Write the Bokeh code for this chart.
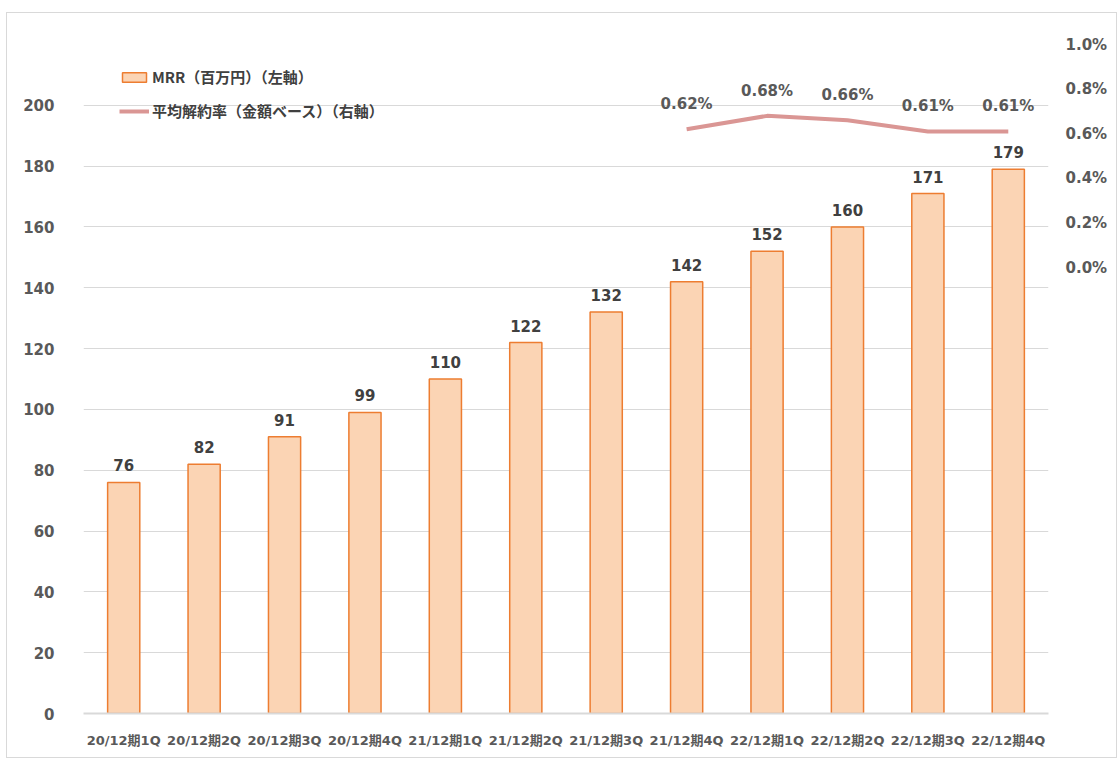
from bokeh.plotting import figure
from bokeh.models import (ColumnDataSource, Range1d, LinearAxis, FixedTicker,
                          PrintfTickFormatter, Legend, LegendItem, FactorRange)
from bokeh.embed import file_html
from bokeh.resources import INLINE
from bokeh.core.properties import value

categories = ["20/12期1Q", "20/12期2Q", "20/12期3Q", "20/12期4Q",
              "21/12期1Q", "21/12期2Q", "21/12期3Q", "21/12期4Q",
              "22/12期1Q", "22/12期2Q", "22/12期3Q", "22/12期4Q"]
mrr = [76, 82, 91, 99, 110, 122, 132, 142, 152, 160, 171, 179]
churn_categories = ["21/12期4Q", "22/12期1Q", "22/12期2Q", "22/12期3Q", "22/12期4Q"]
churn = [0.62, 0.68, 0.66, 0.61, 0.61]
left_ticks = [0, 20, 40, 60, 80, 100, 120, 140, 160, 180, 200]
grid_ticks = [0, 20, 40, 60, 80, 100, 120, 140, 160, 180, 200, 220]
right_ticks = [0.0, 0.2, 0.4, 0.6, 0.8, 1.0]

FONT = "DejaVu Sans, Noto Sans CJK JP"
CJK = "Noto Sans CJK JP"
TXT = "#595959"

p = figure(x_range=FactorRange(*categories, range_padding=0), y_range=Range1d(0, 220),
           width=1111, height=746, output_backend="svg", toolbar_location=None,
           min_border_left=76, min_border_right=70, min_border_top=31, min_border_bottom=46)
p.styles = {"border": "1px solid #d9d9d9", "margin-left": "6px", "margin-top": "12px"}
p.outline_line_color = None
p.background_fill_color = "white"
p.border_fill_color = "white"

p.extra_y_ranges = {"pct": Range1d(-2.0, 1.0)}

bar_src = ColumnDataSource(dict(cat=categories, mrr=mrr, lbl=[str(v) for v in mrr]))
bars = p.vbar(x="cat", top="mrr", width=0.4, source=bar_src,
              fill_color="#fbd4b4", line_color="#ed7d31", line_width=1.5)
p.text(x="cat", y="mrr", text="lbl", source=bar_src, text_align="center",
       text_baseline="bottom", y_offset=-11, text_font=value(FONT),
       text_font_style="bold", text_font_size="15px", text_color="#404040")

line_src = ColumnDataSource(dict(cat=churn_categories, v=churn,
                                 lbl=["%.2f%%" % v for v in churn]))
ln = p.line(x="cat", y="v", source=line_src, y_range_name="pct",
            line_color="#da9694", line_width=4)
p.text(x="cat", y="v", text="lbl", source=line_src, y_range_name="pct",
       text_align="center", text_baseline="bottom", y_offset=-16,
       text_font=value(FONT), text_font_style="bold", text_font_size="15px",
       text_color=TXT)

# axes
p.xaxis.axis_line_color = "#d9d9d9"
p.xaxis.axis_line_width = 2
p.xaxis.major_tick_line_color = None
p.xaxis.minor_tick_line_color = None
p.xaxis.major_label_text_font = FONT
p.xaxis.major_label_text_font_style = "bold"
p.xaxis.major_label_text_font_size = "13px"
p.xaxis.major_label_text_color = TXT
p.xaxis.major_label_standoff = 13

p.yaxis.ticker = FixedTicker(ticks=left_ticks)
p.yaxis.axis_line_color = None
p.yaxis.major_tick_line_color = None
p.yaxis.minor_tick_line_color = None
p.yaxis.major_label_text_font = FONT
p.yaxis.major_label_text_font_style = "bold"
p.yaxis.major_label_text_font_size = "15px"
p.yaxis.major_label_text_color = TXT
p.yaxis.major_label_standoff = 23

raxis = LinearAxis(y_range_name="pct", ticker=FixedTicker(ticks=right_ticks),
                   formatter=PrintfTickFormatter(format="%.1f%%"))
raxis.axis_line_color = None
raxis.major_tick_line_color = None
raxis.minor_tick_line_color = None
raxis.major_label_text_font = FONT
raxis.major_label_text_font_style = "bold"
raxis.major_label_text_font_size = "15px"
raxis.major_label_text_color = TXT
raxis.major_label_standoff = 11
p.add_layout(raxis, "right")

p.xgrid.grid_line_color = None
p.ygrid.ticker = FixedTicker(ticks=grid_ticks)
p.ygrid.grid_line_color = "#d9d9d9"
p.ygrid.grid_line_width = 1

legend = Legend(items=[LegendItem(label="MRR（百万円）（左軸）", renderers=[bars]),
                       LegendItem(label="平均解約率（金額ベース）（右軸）", renderers=[ln])],
                location=(36, 592), orientation="vertical")
legend.background_fill_alpha = 0
legend.border_line_color = None
legend.padding = 0
legend.margin = 0
legend.spacing = 13
legend.glyph_width = 30
legend.glyph_height = 12
legend.label_standoff = 3
legend.label_text_font = CJK
legend.label_text_font_style = "bold"
legend.label_text_font_size = "15px"
legend.label_text_color = "#404040"
legend.label_height = 20
p.add_layout(legend)

open("out.html", "w").write(file_html(p, INLINE))
